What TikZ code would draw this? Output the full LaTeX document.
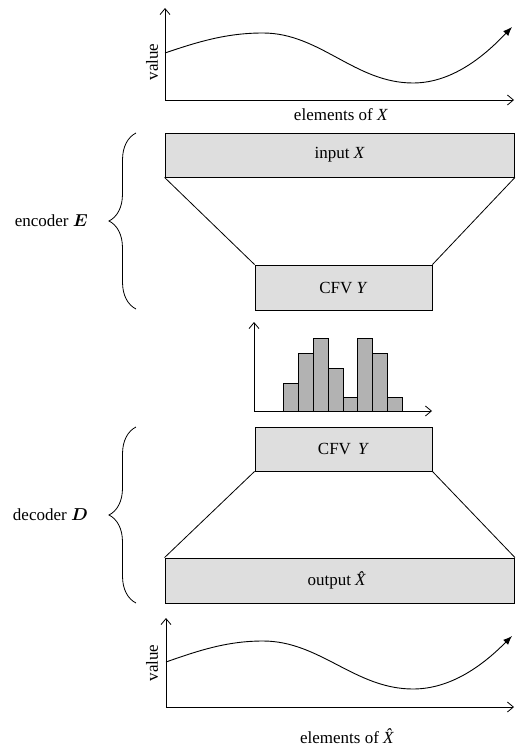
\documentclass[tikz,border=0pt]{standalone}
\usepackage{bm}
\usepackage{fontspec}
\setmainfont{Liberation Serif}
\usetikzlibrary{arrows.meta,decorations.pathreplacing}
\tikzset{
  axis/.style={line width=0.8pt,-{Straight Barb[length=6pt,width=10pt,line width=0.8pt]}},
  signal/.style={line width=0.9pt,-{Latex[length=9pt,width=7pt]}},
  layer/.style={draw,line width=0.9pt,fill=black!13,inner sep=0pt},
  bar/.style={draw,line width=0.8pt,fill=black!30},
  funnel/.style={line width=0.8pt},
  grp/.style={line width=0.8pt,decorate,decoration={brace,amplitude=27pt,aspect=0.5}},
  lbl/.style={font=\fontsize{17}{20}\selectfont,inner sep=0pt},
}
\begin{document}
\begin{tikzpicture}[x=1pt,y=-1pt]
\useasboundingbox (0,0) rectangle (515,746);

% --- input signal plot
\coordinate (o1) at (165,100);
\coordinate (y1) at (165,8);
\coordinate (x1) at (514,100);
\draw[axis] (o1) -- (y1);
\draw[axis] (o1) -- (x1);
\draw[signal] (165,53) .. controls (200,41) and (228,33) .. (263,33)
  .. controls (320,33) and (355,83) .. (413,83)
  .. controls (455,83) and (488,52) .. (512,27);
\node[lbl,rotate=90] (v1) at (152,62) {value};
\node[lbl] (e1) at (341,115) {elements of \textit{X}};

% --- encoder
\node[layer,minimum width=349.5pt,minimum height=44pt] (in) at (339.75,155) {};
\node[lbl] (inl) at (in.center) {input \textit{X}};
\node[layer,minimum width=177pt,minimum height=45pt] (c1) at (343.5,287.5) {};
\node[lbl] (c1l) at (c1.center) {CFV \textit{Y}};
\draw[funnel] (in.south west) -- (c1.north west);
\draw[funnel] (in.south east) -- (c1.north east);
\coordinate (b1t) at (136,133);
\coordinate (b1b) at (136,309);
\draw[grp] (b1b) -- (b1t);
\node[lbl,anchor=east] (enc) at (88,221) {encoder $\bm{E}$};

% --- code histogram
\coordinate (o2) at (254,411);
\coordinate (y2) at (254,322);
\coordinate (x2) at (432,411);
\foreach \l/\r/\t in {283/298/383, 298/313/353, 313/328/338, 328/343/368,
                      343/357/397, 357/372/338, 372/387/353, 387/402/397}
  \draw[bar] (\l,411) rectangle (\r,\t);
\draw[axis] (o2) -- (y2);
\draw[axis] (o2) -- (x2);

% --- decoder
\node[layer,minimum width=177pt,minimum height=44pt] (c2) at (343.5,449) {};
\node[lbl] (c2l) at (c2.center) {CFV\, \textit{Y}};
\node[layer,minimum width=349.5pt,minimum height=45pt] (out) at (339.75,580.5) {};
\node[lbl] (outl) at (out.center) {output \textit{\^{X}}};
\draw[funnel] (c2.south west) -- (out.north west);
\draw[funnel] (c2.south east) -- (out.north east);
\coordinate (b2t) at (136,427);
\coordinate (b2b) at (136,603);
\draw[grp] (b2b) -- (b2t);
\node[lbl,anchor=east] (dec) at (88,515) {decoder $\bm{D}$};

% --- reconstructed signal plot
\coordinate (o3) at (166,707);
\coordinate (y3) at (166,618);
\coordinate (x3) at (514,707);
\draw[axis] (o3) -- (y3);
\draw[axis] (o3) -- (x3);
\draw[signal] (166,662) .. controls (200,650) and (228,641) .. (263,641)
  .. controls (320,641) and (355,689) .. (413,689)
  .. controls (455,689) and (488,660) .. (512,636);
\node[lbl,rotate=90] (v3) at (152,663) {value};
\node[lbl] (e3) at (350,736) {elements of \textit{\^{X}}};
\end{tikzpicture}
\end{document}
